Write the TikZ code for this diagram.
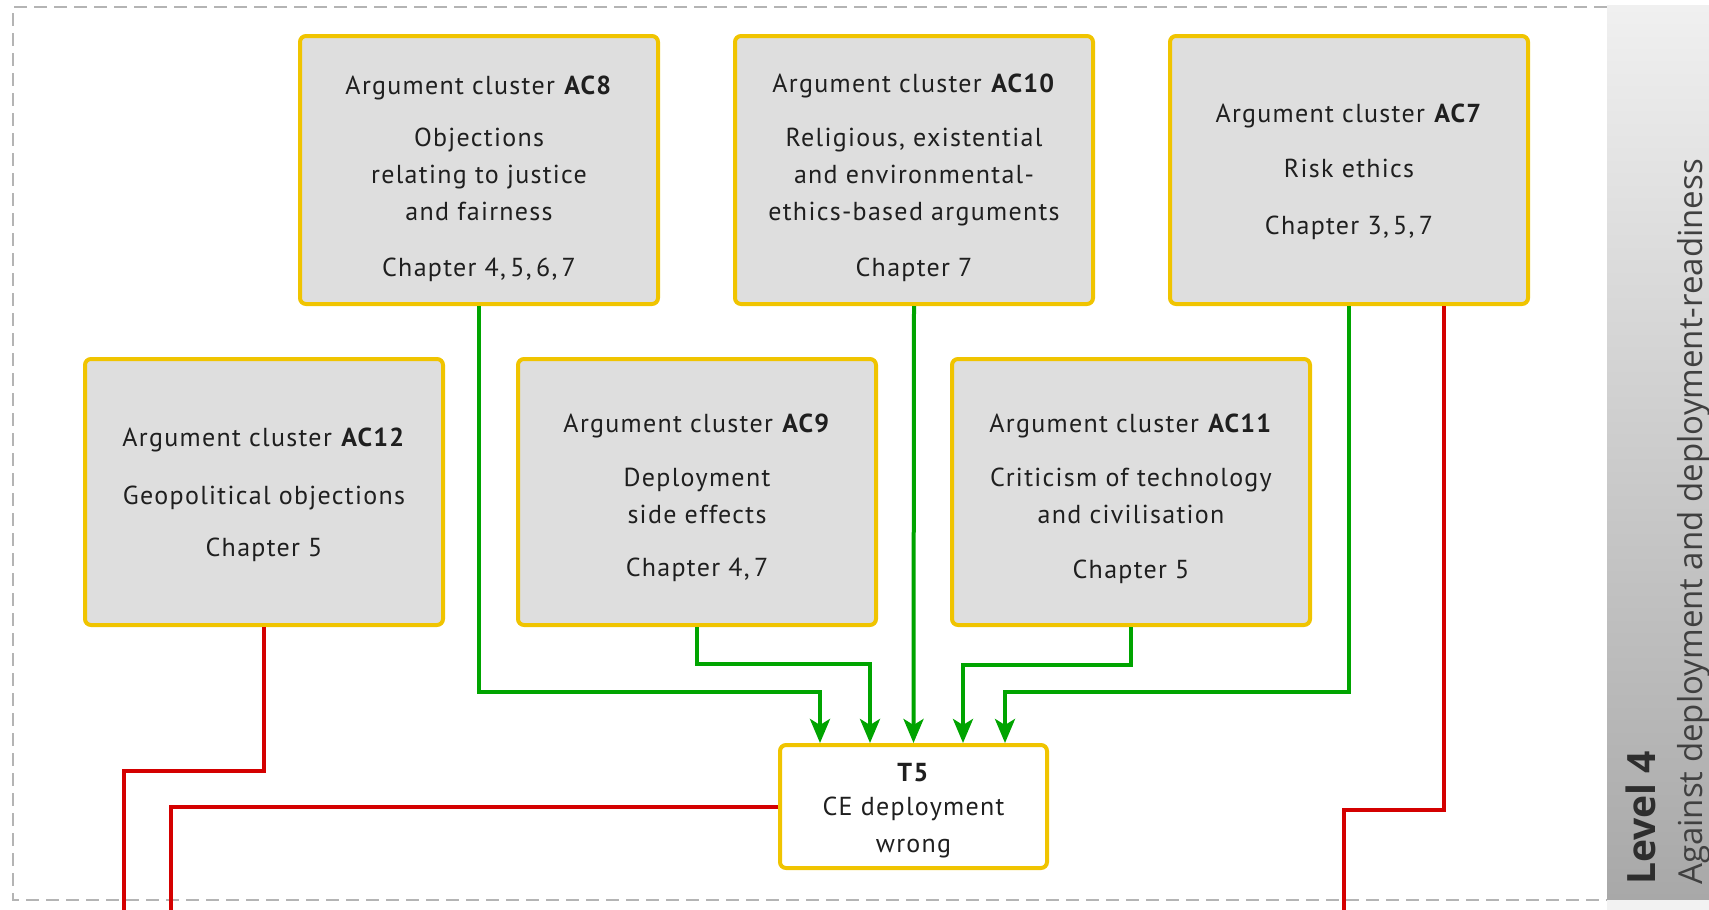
\documentclass[tikz,border=0pt]{standalone}
\usepackage{fontspec}
\setmainfont[LetterSpace=5]{PT Sans}
\newfontfamily\stripfont{Open Sans}
\usetikzlibrary{arrows.meta,calc}
\definecolor{boxyellow}{HTML}{F0C400}
\definecolor{boxgray}{HTML}{DEDEDE}
\definecolor{lgreen}{HTML}{00A400}
\definecolor{lred}{HTML}{D40000}
\definecolor{frame}{HTML}{B4B4B4}
\definecolor{striptop}{HTML}{F0F0F0}
\definecolor{stripbot}{HTML}{A8A8A8}
\tikzset{
  acbox/.style={draw=boxyellow, line width=4pt, rounded corners=6pt, fill=boxgray,
    minimum width=358pt, minimum height=268pt, inner sep=0pt},
  tbox/.style={acbox, fill=white, minimum width=267pt, minimum height=123pt},
  actext/.style={inner sep=0pt, align=center, font=\fontsize{26}{37}\selectfont, text=black!88},
  garrow/.style={draw=lgreen, line width=4pt, -{Stealth[length=24pt,width=20pt,inset=6pt]}},
  rline/.style={draw=lred, line width=4pt},
  framebox/.style={draw=frame, line width=2pt, dash pattern=on 13pt off 7pt}
}
\begin{document}
\begin{tikzpicture}[x=1pt,y=-1pt]
\useasboundingbox (0,0) rectangle (1709,910);
% frame
\draw[framebox] (1607,7) -- (13,7) -- (13,900) -- (1607,900);
% strip
\shade[top color=striptop, bottom color=stripbot] (1607,5) rectangle (1709,900);
\fill[black!5] (1607,900) rectangle (1709,910);
\node[rotate=90, anchor=base west, inner sep=0pt, font=\stripfont\bfseries\fontsize{39}{42}\selectfont, text=black!82] (lvl) at (1655,885) {Level 4};
\node[rotate=90, anchor=base west, inner sep=0pt, font=\stripfont\fontsize{33}{36}\selectfont, text=black!75] (lvltxt) at (1702,885) {Against deployment and deployment-readiness};
% boxes row 1
\node[acbox] (ac8) at (479,170) {};
\node[acbox] (ac10) at (914,170) {};
\node[acbox] (ac7) at (1349,170) {};
% boxes row 2
\node[acbox, minimum height=266pt] (ac12) at (264,492) {};
\node[acbox, minimum height=266pt] (ac9) at (697,492) {};
\node[acbox, minimum height=266pt] (ac11) at (1131,492) {};
% T5
\node[tbox] (t5) at (913.5,806.5) {};
% texts
\node[actext] (ac8t) at ($(ac8.center)+(0,8.5)$) {Argument cluster \textbf{AC8}\\[15pt] Objections\\ relating to justice\\ and fairness\\[19pt] Chapter 4,\,5,\,6,\,7};
\node[actext] (ac10t) at ($(ac10.center)+(0,8)$) {Argument cluster \textbf{AC10}\\[17pt] Religious, existential\\ and environmental-\\ ethics-based arguments\\[19pt] Chapter 7};
\node[actext] (ac7t) at ($(ac7.center)+(0,2)$) {Argument cluster \textbf{AC7}\\[18pt] Risk ethics\\[20pt] Chapter 3,\,5,\,7};
\node[actext] (ac12t) at ($(ac12.center)+(0,3)$) {Argument cluster \textbf{AC12}\\[21pt] Geopolitical objections\\[15pt] Chapter 5};
\node[actext] (ac9t) at ($(ac9.center)+(0,5.5)$) {Argument cluster \textbf{AC9}\\[17pt] Deployment\\ side effects\\[16pt] Chapter 4,\,7};
\node[actext] (ac11t) at ($(ac11.center)+(0,6.5)$) {Argument cluster \textbf{AC11}\\[17pt] Criticism of technology\\ and civilisation\\[18pt] Chapter 5};
\node[actext] (t5t) at ($(t5.center)+(0,4)$) {\textbf{T5}\\[-3pt] CE deployment\\ wrong};
% green connectors
\draw[garrow] (ac8.south) -- ++(0,386) -| ([xshift=-93.5pt]t5.north);
\draw[garrow] (ac9.south) -- ++(0,37) -| ([xshift=-43.5pt]t5.north);
\draw[garrow] (ac10.south) -- (t5.north);
\draw[garrow] (ac11.south) -- ++(0,38) -| ([xshift=49.5pt]t5.north);
\draw[garrow] (ac7.south) -- ++(0,386) -| ([xshift=91.5pt]t5.north);
% red connectors
\coordinate (r1) at (124,912);
\coordinate (r2) at (171,912);
\coordinate (r3) at (1344,912);
\draw[rline] (ac12.south) |- (124,771) -- (r1);
\draw[rline] (t5.west) -| (r2);
\draw[rline] ([xshift=95pt]ac7.south) -- ++(0,504) -| (r3);
\end{tikzpicture}
\end{document}
